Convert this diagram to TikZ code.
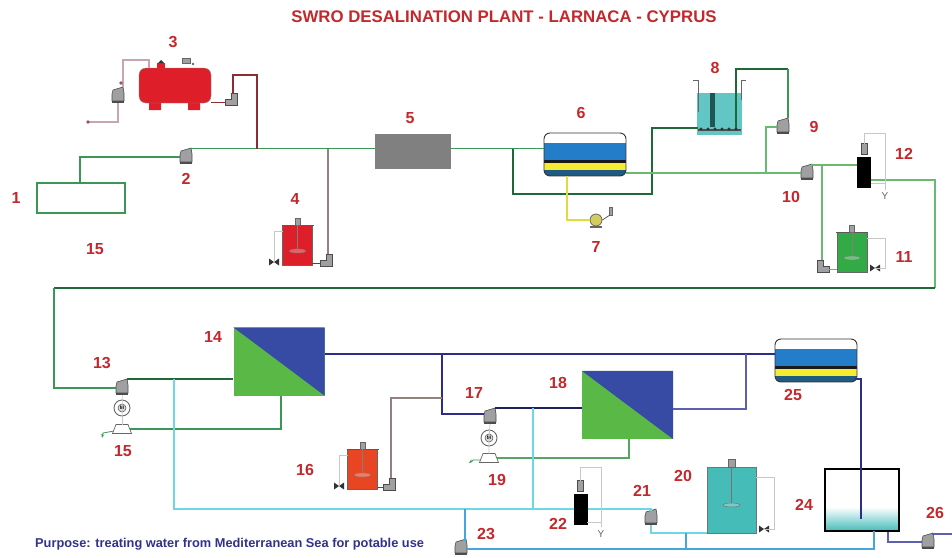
\documentclass[tikz,border=0pt]{standalone}
\usepackage{fontspec}
\setmainfont{Liberation Sans}
\usetikzlibrary{arrows.meta,calc,positioning}
\definecolor{tagred}{RGB}{196,40,44}
\definecolor{notenavy}{RGB}{50,50,140}
\definecolor{feedgreen}{RGB}{60,150,85}
\definecolor{darkgreen}{RGB}{30,105,55}
\definecolor{midgreen}{RGB}{105,185,115}
\definecolor{permcyan}{RGB}{110,215,230}
\definecolor{skyblue}{RGB}{70,165,225}
\definecolor{navyline}{RGB}{45,45,135}
\definecolor{purpleline}{RGB}{95,95,175}
\definecolor{dosered}{RGB}{140,45,50}
\definecolor{doseashen}{RGB}{145,130,130}
\definecolor{paleline}{RGB}{200,165,180}
\definecolor{thingray}{RGB}{200,200,200}
\definecolor{pumpgray}{RGB}{160,160,162}
\definecolor{membgreen}{RGB}{90,185,70}
\definecolor{membblue}{RGB}{55,75,165}
\definecolor{tankred}{RGB}{222,30,40}
\definecolor{tankorange}{RGB}{232,70,35}
\definecolor{tankgreen}{RGB}{50,170,70}
\definecolor{tankteal}{RGB}{70,188,185}
\definecolor{layerblue}{RGB}{35,125,200}
\definecolor{layeryellow}{RGB}{245,235,50}
\definecolor{layerdark}{RGB}{30,90,130}
\tikzset{
  tag/.style={font=\bfseries\fontsize{16}{16}\selectfont,text=tagred},
  feedpipe/.style={feedgreen,line width=1.5pt},
  darkpipe/.style={darkgreen,line width=1.5pt},
  midpipe/.style={midgreen,line width=2pt},
  cyanpipe/.style={permcyan,line width=2pt},
  skypipe/.style={skyblue,line width=1.4pt},
  navypipe/.style={navyline,line width=1.4pt},
  purplepipe/.style={purpleline,line width=2pt},
  thinpipe/.style={thingray,line width=0.8pt},
  pics/pump/.style={code={
    \fill[pumpgray,draw=black!70,line width=0.6pt] (-5,-6) -- (5,-9) -- (6,-3) -- (6,5) -- (-6,5) -- (-6,-2) -- cycle;
    \fill[black!70] (-6,5) rectangle (6,7);
    \coordinate (-in) at (-6,0);
    \coordinate (-out) at (5,-9);
    \coordinate (-top) at (0,-7);
    \coordinate (-bottom) at (0,7);
  }},
  pics/elbow/.style={code={
    \fill[pumpgray,draw=black!70,line width=0.6pt] (-6,6) -- (-6,0) -- (0,0) -- (0,-6) -- (6,-6) -- (6,6) -- cycle;
    \coordinate (-in) at (-6,3);
    \coordinate (-out) at (2,-6);
  }},
  pics/turbine/.style={code={
    \fill[white,draw=black!60,line width=0.7pt] (-6,-4.5) -- (6,-4.5) -- (9.5,4.5) -- (-9.5,4.5) -- cycle;
    \coordinate (-east) at (8,0);
    \coordinate (-west) at (-8,2);
    \coordinate (-top) at (0,-4.5);
  }},
  pics/motor/.style={code={
    \draw[black!60,fill=white,line width=0.9pt] (0,0) circle (8pt);
    \draw[black!70,fill=black!15,line width=0.5pt] (0,0) circle (4pt);
    \node[font=\fontsize{5}{5}\selectfont\bfseries] (-m) at (0,0) {M};
    \coordinate (-c) at (0,0);
  }},
  pics/valve/.style={code={
    \fill[black!80] (-5,-3.5) -- (0,0) -- (-5,3.5) -- cycle;
    \fill[black!80] (5,-3.5) -- (0,0) -- (5,3.5) -- cycle;
    \coordinate (-c) at (0,0);
  }},
  pics/stirtank/.style={code={
    \fill[#1,draw=black!60,line width=0.5pt] (-15,-20) rectangle (15,20);
    \draw[black!65,line width=1pt] (-16,-20) -- (16,-20);
    \fill[pumpgray,draw=black!60,line width=0.4pt] (-2.5,-27) rectangle (2.5,-20);
    \draw[black!50,line width=0.8pt] (0,-20) -- (0,6);
    \fill[white!30!#1,draw=black!50,line width=0.4pt] (0,6) ellipse (8pt and 2pt);
    \coordinate (-tr) at (15,-14);
    \coordinate (-tl) at (-15,-14);
    \coordinate (-br) at (15,15);
    \coordinate (-bl) at (-15,15);
  }},
  pics/vessel/.style={code={
    \begin{scope}
      \clip[rounded corners=6pt] (-41,-21.5) rectangle (41,21.5);
      \fill[layerblue] (-41,-12) rectangle (41,5);
      \fill[black!60!darkgray] (-41,5) rectangle (41,8);
      \fill[layeryellow] (-41,8) rectangle (41,15);
      \fill[layerdark] (-41,15) rectangle (41,21.5);
    \end{scope}
    \draw[black!80,line width=0.9pt,rounded corners=6pt] (-41,-21.5) rectangle (41,21.5);
    \coordinate (-west) at (-41,-6);
    \coordinate (-east) at (39,18.5);
    \coordinate (-south) at (-18,21.5);
  }},
  pics/sensor/.style={code={
    \fill[black] (-7,-15.5) rectangle (7,15.5);
    \fill[pumpgray,draw=black!70,line width=0.5pt] (-3,-29) rectangle (3,-18);
    \coordinate (-top) at (0,-29);
    \coordinate (-west) at (-7,-8);
    \coordinate (-east) at (7,7);
  }},
}

\begin{document}
\begin{tikzpicture}[x=1pt,y=-1pt]
    \useasboundingbox (0,0) rectangle (952,557);
    \fill[white] (0,0) rectangle (952,557);

    % title and note
    \node[font=\bfseries\fontsize{16.8}{16.8}\selectfont,text=tagred] (title) at (504,17) {SWRO DESALINATION PLANT - LARNACA - CYPRUS};
    \node[font=\bfseries\fontsize{12.8}{12.8}\selectfont,text=notenavy,anchor=west,inner sep=0pt] (purpose) at (35,544) {Purpose: treating water from Mediterranean Sea for potable use};

    % equipment
    \node[draw=feedgreen,line width=1.8pt,minimum width=88pt,minimum height=30pt] (intake) at (81,198) {};
    \node[fill=black!50,minimum width=76pt,minimum height=35pt] (filter) at (413,151.5) {};
    \foreach \name/\x/\y in {memb14/279/361.5,memb18/627.5/405}{
      \node[fill=membgreen,minimum width=91pt,minimum height=68pt,inner sep=0pt] (\name) at (\x,\y) {};
      \fill[membblue] (\name.north west) -- (\name.north east) -- (\name.south east) -- cycle;
    }

    % storage tank 3
    \fill[tankred] (149,103) rectangle (161,110) (188,103) rectangle (200,110);
    \node[fill=tankred,draw=black!45,rounded corners=7pt,minimum width=72pt,minimum height=35pt,inner sep=0pt] (acidtank) at (175,85.5) {};
    \fill[tankred] (157,63) rectangle (165,68);
    \fill[black!80] (158,63) -- (161,60) -- (164,63) -- cycle;
    \fill[pumpgray,draw=black!60,line width=0.4pt] (182,58) rectangle (190,63);
    \fill[black!60] (193,64) circle (1.3pt);

    % basin 8
    \fill[tankteal!85!white] (697,93) rectangle (742,135);
    \draw[black!60,line width=0.7pt] (693,80) -- (698,80) -- (698,112);
    \draw[black!60,line width=0.7pt] (746,80) -- (741,80) -- (741,100);
    \fill[black!55!tankteal] (710,93) rectangle (715,127);
    \fill[black!70] (698,129) rectangle (741,131);
    \foreach \i in {0,...,5}
      \fill[black!80] (701+\i*7,129) circle (1.6pt);
    \coordinate (basinin) at (698,128);
    \coordinate (basinout) at (736,128);

    % basin 24
    \shade[top color=white,bottom color=tankteal] (825,507) rectangle (899,531);
    \node[draw=black,line width=1.5pt,minimum width=74pt,minimum height=62pt,inner sep=0pt] (product) at (862,500) {};

    % stirred tank 20
    \node[fill=tankteal,draw=black!55,line width=0.6pt,minimum width=49pt,minimum height=66pt,inner sep=0pt] (dose20) at (731.5,500) {};
    \fill[pumpgray,draw=black!60,line width=0.4pt] (728.5,459) rectangle (735,467);
    \draw[black!55,line width=1.2pt] (dose20.north) -- (731.5,505);
    \fill[white!25!tankteal,draw=black!55,line width=0.5pt] (731.5,505) ellipse (8.5pt and 2pt);

    \pic (vess6) at (585,154.5) {vessel};
    \pic (vess25) at (816,360.5) {vessel};
    \pic (dose4) at (297.5,245) {stirtank=tankred};
    \pic (dose11) at (852,252) {stirtank=tankgreen};
    \pic (dose16) at (362.5,469) {stirtank=tankorange};
    \pic (sens12) at (864,172.5) {sensor};
    \pic (sens22) at (580.5,509.5) {sensor};

    % pumps
    \pic (pump2) at (186,157) {pump};
    \pic (pump3) at (118,96) {pump};
    \pic (pump9) at (783,127) {pump};
    \pic (pump10) at (807,173) {pump};
    \pic (pump13) at (122,388) {pump};
    \pic (pump17) at (490,417) {pump};
    \pic (pump21) at (651,518) {pump};
    \pic (pump23) at (461,548) {pump};
    \pic (pump26) at (928,542) {pump};
    \pic (elb3) at (231,99) {elbow};
    \pic (elb4) at (326,260) {elbow};
    \pic[xscale=-1] (elb11) at (823,266) {elbow};
    \pic (elb16) at (389,484) {elbow};
    \pic (motor13) at (122,408) {motor};
    \pic (motor17) at (489,438) {motor};
    \pic (turb13) at (122,429) {turbine};
    \pic (turb17) at (489,458) {turbine};
    \pic (valve4) at (274,262) {valve};
    \pic (valve11) at (875,268) {valve};
    \pic (valve16) at (339,486) {valve};
    \pic (valve20) at (764,529) {valve};

    % dosing pump 7
    \node[circle,draw=black!60,fill=layeryellow!60!pumpgray,line width=0.8pt,minimum size=12pt,inner sep=0pt] (pump7) at (596,220) {};
    \fill[black!60] (590,226) rectangle (602,228);
    \fill[pumpgray,draw=black!60,line width=0.4pt] (609,207) rectangle (612,215);
    \draw[black!70,line width=0.7pt] (pump7.east) -- (610,215);

    % free pipe ends and bends
    \coordinate (inlet3) at (88,122);
    \coordinate (bend3) at (149,60);
    \coordinate (joinA) at (257,148.5);
    \coordinate (joinB) at (328,148.5);
    \coordinate (joinC) at (513,148.5);
    \coordinate (outlet6) at (626,173);
    \coordinate (joinD) at (766,173);
    \coordinate (joinE) at (822,165);
    \coordinate (feedR) at (935,288);
    \coordinate (feedL) at (54,288);
    \coordinate (joinF) at (174,379);
    \coordinate (joinG) at (442,354);
    \coordinate (joinH) at (746,354);
    \coordinate (joinI) at (533,408);
    \coordinate (joinJ) at (174,509);
    \coordinate (joinK) at (465,509);
    \coordinate (joinL) at (533,509);
    \coordinate (joinM) at (686,533);
    \coordinate (skyend) at (874,549);
    \coordinate (drain13) at (102,438);
    \coordinate (drain17) at (469,463);
    \coordinate (end26) at (952,534);

    % seawater side
    \draw[feedpipe,line width=1.8pt] (intake.north -| 80,0) |- (pump2-in);
    \draw[feedpipe] (pump2-out) |- (filter.west |- joinA);
    \draw[feedpipe] (filter.east |- joinA) -- (vess6-west);
    \draw[paleline,line width=1.2pt] (inlet3) -| (pump3-bottom);
    \draw[paleline,line width=1.2pt] (pump3-out) |- (bend3) -- (149,68);
    \fill[dosered!70!paleline] (inlet3) circle (1.8pt) (121,83) circle (1.8pt);
    \draw[dosered,line width=0.8pt] (elb3-in) -- (211,102);
    \draw[dosered,line width=1.2pt] (elb3-out) |- (257,75) -- (joinA);
    \draw[doseashen,line width=1.8pt] (elb4-out) -- (joinB);
    \draw[thinpipe] (dose4-tl) -| (valve4-c);
    \draw[dosered,line width=0.7pt] (312,263) -- (elb4-in);
    \draw[darkpipe] (joinC) |- (652,194) |- (basinin);
    \draw[darkpipe] (basinout) |- (788,69);
    \draw[midpipe,line width=1.6pt,feedgreen] (788,69) -- (pump9-out);
    \draw[midpipe] (pump9-in) -| (joinD);
    \draw[midpipe] (outlet6) -- (pump10-in);
    \draw[midpipe] (pump10-out) |- (sens12-west);
    \draw[midpipe] (joinE) -- (joinE |- elb11-out);
    \draw[black!40,line width=0.7pt] (elb11-in) -- (837,269);
    \draw[thinpipe] (dose11-tr) -| (885,268) -- (valve11-c);
    \draw[midpipe] (sens12-east) -| (feedR);
    \draw[darkpipe] (feedR) -- (feedL);
    \draw[midpipe,feedgreen] (feedL) |- (pump13-in);
    \draw[thinpipe] (sens12-top) |- (885,133) -- (885,190);
    \draw[thinpipe] (871,183) -- (885,183);
    \draw[layeryellow!85!gray,line width=1.6pt] (vess6-south) |- (pump7.west);

    % first stage
    \draw[darkpipe,line width=2pt] (pump13-out) |- (memb14.west |- joinF);
    \draw[thinpipe] (pump13-bottom) -- (motor13-c) -- (turb13-top);
    \draw[feedpipe,line width=1.8pt] (memb14.south -| 281,0) |- (turb13-east);
    \draw[feedpipe,line width=0.8pt,-{Stealth[length=4pt]}] (turb13-west) -- (103,433) -- (drain13);
    \draw[navypipe] (memb14.east |- joinG) -- (vess25-west |- joinG);
    \draw[navypipe] (joinG) |- (pump17-in |- 0,414);
    \draw[cyanpipe] (joinF) -- (joinJ) -- (joinL);

    % second stage
    \draw[navypipe,black!30!navyline,line width=1.6pt] (pump17-out) |- (memb18.west |- joinI);
    \draw[thinpipe] (pump17-bottom) -- (motor17-c) -- (turb17-top);
    \draw[feedpipe,midgreen!75!darkgreen,line width=1.8pt] (memb18.south -| 629,0) |- (turb17-east);
    \draw[feedpipe,line width=0.8pt,-{Stealth[length=4pt]}] (turb17-west) -- (473,460) -- (drain17);
    \draw[purplepipe] (memb18.east |- 0,409) -| (joinH);
    \draw[doseashen,line width=1.6pt] (elb16-out) |- (joinG |- 0,398);
    \draw[thinpipe] (dose16-tl) -| (valve16-c);
    \draw[dosered,line width=0.7pt] (dose16-br |- elb16-in) -- (elb16-in);
    \draw[cyanpipe] (joinI) -- (joinL) -- (sens22-west |- joinL);
    \draw[cyanpipe] (sens22-east |- joinL) -| (pump21-top);
    \draw[thinpipe] (sens22-top) |- (601,467) -- (601,527);
    \draw[thinpipe] (587,522) -- (601,522);

    % product side
    \draw[cyanpipe,line width=1.6pt] (pump21-bottom) |- (dose20.west |- joinM);
    \draw[skypipe] (joinM) -- (joinM |- skyend);
    \draw[skypipe] (pump23-in |- skyend) ++(12,0) -- (skyend) -- (874,531);
    \draw[skypipe,line width=1.6pt] (joinK) -- (465,541);
    \draw[thinpipe] (dose20.north east |- 0,477) -| (774,529) -- (valve20-c);
    \draw[navypipe] (vess25-east) -| (861,519);
    \draw[purplepipe] (888,532) |- (pump26-in);
    \draw[purplepipe,line width=1.6pt] (pump26-out) |- (end26);

    % number tags
    \foreach \txt/\x/\y [count=\i] in {1/16/198,2/186/179,3/173/42,4/295/199,5/410/118,6/581/113,7/596/247,8/715/68,9/814/127,10/791/197,11/904/257,12/904/154,15/95/249,13/102/363,14/213/337,15/123/451,16/305/470,17/474/393,18/558/383,19/497/480,20/683/476,21/642/491,22/558/524,23/486/534,24/804/505,25/793/395,26/935/513}
      \node[tag] (tag\i) at (\x,\y) {\txt};
    % level switch marks
    \node[font=\fontsize{10}{10}\selectfont,text=black!60,inner sep=0pt] (ymark12) at (885,196) {Y};
    \node[font=\fontsize{10}{10}\selectfont,text=black!60,inner sep=0pt] (ymark22) at (601,534) {Y};
  \end{tikzpicture}
\end{document}
